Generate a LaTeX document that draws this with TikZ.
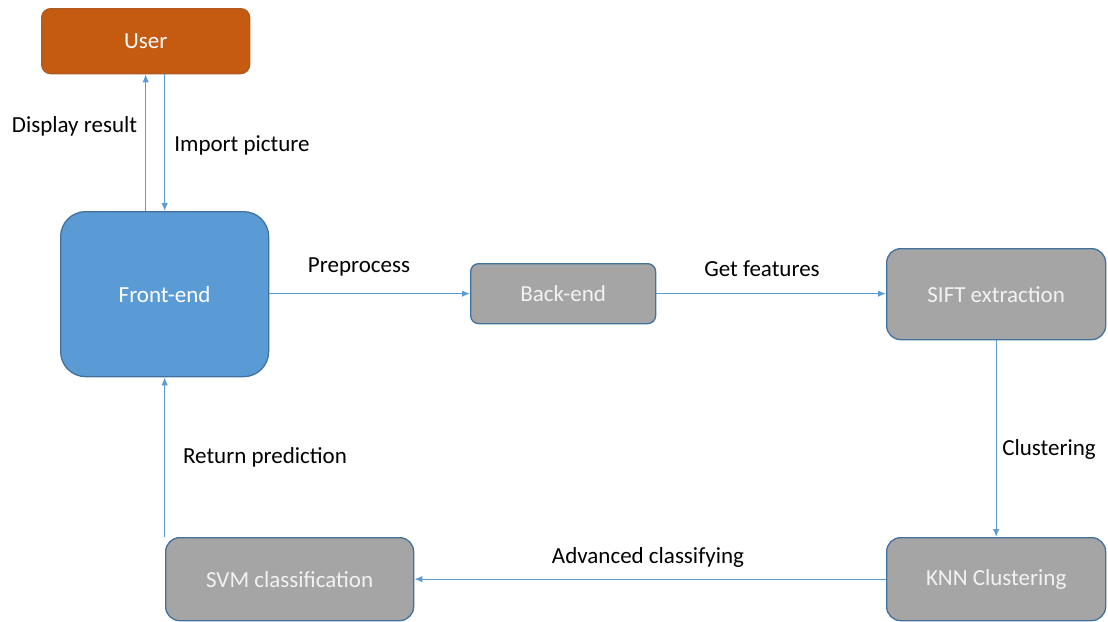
\documentclass[tikz,border=0pt]{standalone}
\usepackage{fontspec}
\setmainfont{Carlito}
\usetikzlibrary{arrows.meta,calc}
\definecolor{userfill}{HTML}{C55A11}
\definecolor{userborder}{HTML}{AE5A21}
\definecolor{bluefill}{HTML}{5B9BD5}
\definecolor{blueborder}{HTML}{41719C}
\definecolor{grayfill}{HTML}{A5A5A5}
\definecolor{arrowblue}{HTML}{5B9BD5}
\tikzset{
  box/.style={draw=blueborder, line width=1.3pt, text=white, font=\fontsize{23}{27}\selectfont, inner sep=0pt, anchor=north west},
  graybox/.style={box, fill=grayfill, text=white!95!black},
  arr/.style={draw=arrowblue, line width=1.3pt, -{Latex[length=8pt,width=6.5pt]}},
  lbl/.style={font=\fontsize{23}{27}\selectfont, text=black, inner sep=0pt}
}
\begin{document}
\begin{tikzpicture}[x=1pt,y=-1pt]
\useasboundingbox (0,0) rectangle (1108,621);
% nodes
\node[box, fill=userfill, draw=userborder, rounded corners=9pt, minimum width=208pt, minimum height=65pt] (user) at (41,8) {User};
\node[box, fill=bluefill, rounded corners=25pt, minimum width=208pt, minimum height=165pt] (front) at (60,211) {Front-end};
\node[graybox, rounded corners=8pt, minimum width=185pt, minimum height=60pt] (back) at (470,263) {Back-end};
\node[graybox, rounded corners=14pt, minimum width=219pt, minimum height=91pt] (sift) at (886,248) {SIFT extraction};
\node[graybox, rounded corners=14pt, minimum width=219pt, minimum height=83pt] (knn) at (886,537) {KNN Clustering};
\node[graybox, rounded corners=14pt, minimum width=248pt, minimum height=83pt] (svm) at (165,537) {SVM classification};
% connectors
\draw[arr] (front.north -| user.south) -- (user.south);
\draw[arr] (user.south -| front.north) -- (front.north);
\draw[arr] (front.east |- back.west) -- (back.west);
\draw[arr] (back.east) -- (back.east -| sift.west);
\draw[arr] (sift.south) -- (knn.north -| sift.south);
\draw[arr] (knn.west) -- (knn.west -| svm.east);
\draw[arr] (svm.north -| front.south) -- (front.south);
% labels
\node[lbl] (l1) at (74.5,126) {Display result};
\node[lbl] (l2) at (242,145) {Import picture};
\node[lbl] (l3) at (359,267) {Preprocess};
\node[lbl] (l4) at (762,269) {Get features};
\node[lbl] (l5) at (1049,449) {Clustering};
\node[lbl] (l6) at (648,557) {Advanced classifying};
\node[lbl] (l7) at (265,457) {Return prediction};
\end{tikzpicture}
\end{document}
